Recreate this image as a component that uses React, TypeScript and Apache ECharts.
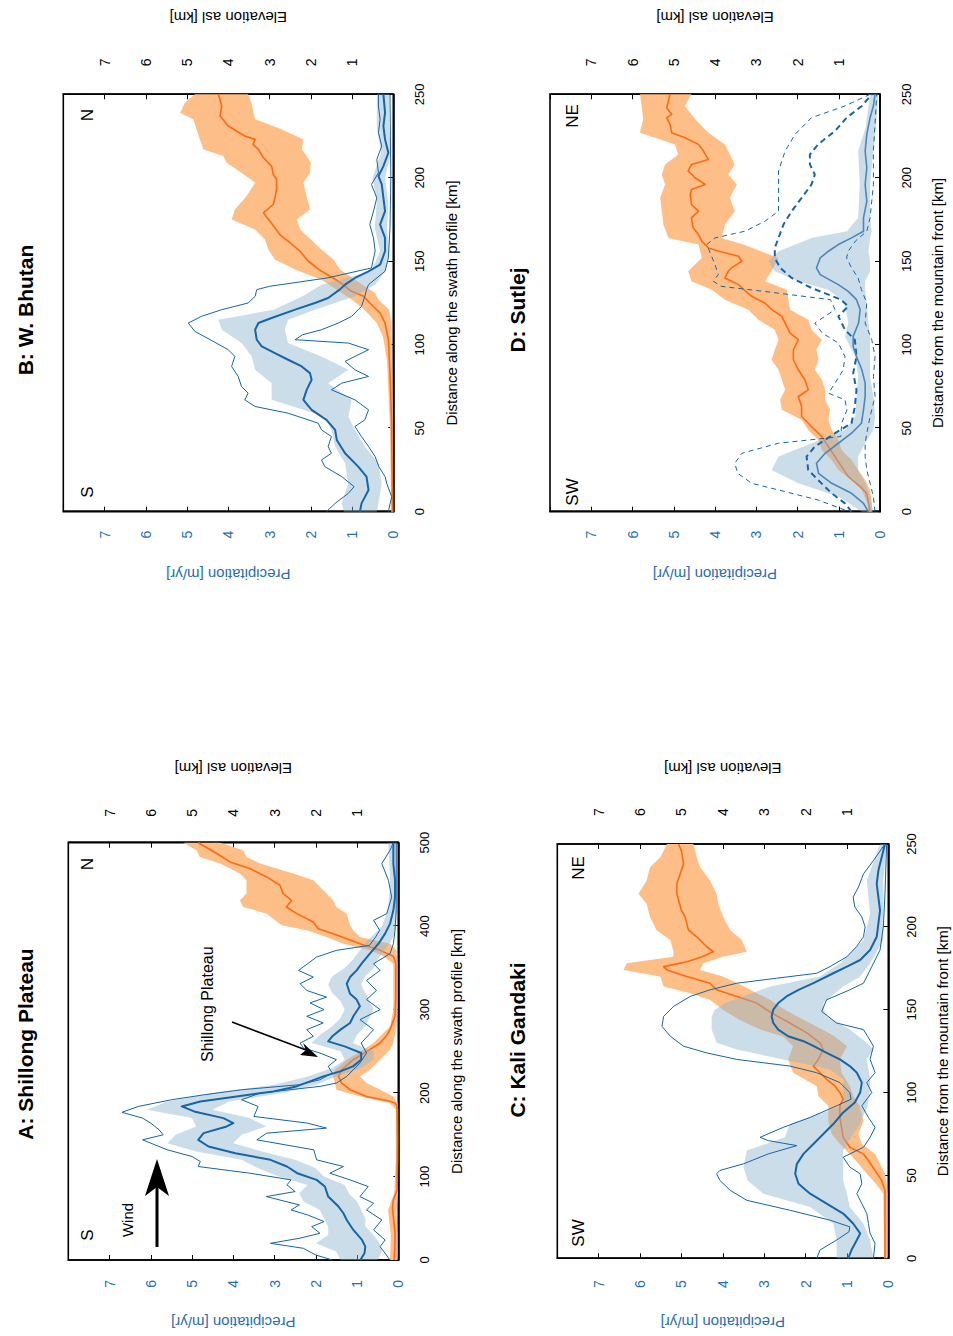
import React, { useEffect, useRef } from 'react';
import * as echarts from 'echarts';

type Pt = [number, number];
type Bd = [number, number, number];

// ---------------- Panel A: Shillong Plateau ----------------
const A_MEAN: Pt[] = [[0, 0.92], [8, 0.82], [16, 0.8], [24, 0.88], [36, 1.09], [48, 1.25], [56, 1.33], [64, 1.45], [76, 1.7], [88, 1.78], [96, 1.98], [104, 2.45], [112, 2.7], [120, 3.1], [128, 3.95], [136, 4.6], [144, 4.85], [152, 4.72], [160, 4.16], [164, 4.0], [170, 4.24], [178, 4.95], [184, 5.25], [190, 4.8], [196, 3.92], [202, 3.03], [208, 2.47], [214, 2.14], [220, 1.82], [226, 1.41], [232, 1.1], [240, 0.9], [248, 0.9], [256, 1.3], [262, 1.7], [268, 1.6], [276, 1.4], [284, 1.17], [292, 1.09], [304, 0.93], [312, 1.01], [319, 1.17], [331, 1.25], [339, 1.17], [347, 1.01], [355, 0.89], [367, 0.69], [379, 0.48], [391, 0.32], [403, 0.2], [419, 0.12], [435, 0.08], [455, 0.08], [475, 0.12], [500, 0.12]];
const A_BAND: Bd[] = [[0, 0.5, 1.4], [10, 0.4, 1.5], [20, 0.45, 2.0], [30, 0.6, 1.7], [40, 0.8, 1.7], [50, 0.8, 1.8], [60, 0.9, 1.9], [70, 1.0, 2.3], [80, 1.2, 2.4], [90, 1.3, 2.2], [100, 1.8, 2.9], [110, 2.0, 3.4], [120, 2.5, 3.8], [130, 3.3, 4.9], [140, 4.0, 5.6], [150, 3.8, 5.4], [160, 3.2, 4.9], [170, 3.6, 5.0], [180, 4.5, 6.1], [190, 4.1, 5.6], [200, 2.8, 4.5], [210, 2.0, 3.0], [220, 1.5, 2.2], [230, 0.9, 1.6], [240, 0.6, 1.3], [250, 0.6, 1.4], [260, 1.1, 2.1], [270, 1.0, 1.9], [280, 0.8, 1.6], [290, 0.7, 1.4], [300, 0.6, 1.3], [310, 0.7, 1.4], [320, 0.8, 1.6], [330, 0.9, 1.7], [340, 0.8, 1.6], [350, 0.6, 1.3], [360, 0.5, 1.1], [370, 0.35, 0.95], [380, 0.2, 0.8], [390, 0.1, 0.6], [400, 0.05, 0.4], [420, 0.03, 0.25], [450, 0.03, 0.2], [480, 0.03, 0.22], [500, 0.03, 0.25]];
const A_MAX: Pt[] = [[0, 1.6], [6, 2.0], [14, 2.3], [20, 3.1], [26, 2.4], [32, 1.9], [40, 2.1], [46, 1.8], [54, 2.2], [60, 2.6], [66, 2.4], [76, 3.2], [82, 2.5], [90, 2.7], [96, 2.6], [104, 3.6], [112, 4.85], [118, 4.8], [124, 5.0], [132, 5.6], [138, 5.9], [144, 6.2], [150, 5.7], [156, 5.8], [164, 6.0], [170, 6.2], [177, 6.7], [184, 6.3], [192, 5.5], [198, 4.7], [204, 3.8], [210, 2.4], [216, 1.9], [224, 1.6], [232, 1.7], [240, 1.5], [248, 1.9], [254, 2.3], [260, 2.38], [268, 2.06], [276, 2.22], [284, 1.82], [292, 2.22], [300, 1.8], [308, 2.14], [315, 1.74], [323, 2.22], [331, 2.38], [339, 2.06], [347, 2.42], [355, 2.2], [363, 1.98], [371, 1.5], [377, 0.7], [387, 0.55], [395, 0.45], [407, 0.6], [415, 0.28], [435, 0.16], [455, 0.24], [475, 0.4], [491, 0.2], [500, 0.12]];
const A_MIN: Pt[] = [[0, 0.2], [16, 0.44], [24, 0.32], [36, 0.6], [48, 0.4], [60, 0.77], [68, 0.6], [76, 0.93], [88, 0.73], [96, 1.17], [104, 1.66], [112, 1.33], [120, 1.98], [132, 2.05], [144, 3.43], [152, 3.19], [158, 1.74], [164, 2.2], [172, 3.5], [184, 3.4], [192, 3.8], [200, 3.35], [208, 1.9], [212, 1.5], [220, 1.25], [228, 1.09], [236, 0.93], [248, 0.77], [260, 0.9], [276, 0.6], [288, 0.93], [300, 0.44], [312, 0.77], [323, 0.53], [335, 0.77], [347, 0.44], [355, 0.6], [367, 0.2], [379, 0.12], [395, 0.08], [420, 0.05], [500, 0.05]];
const A_ELEV: Pt[] = [[0, 0.1], [20, 0.08], [32, 0.08], [52, 0.12], [62, 0.14], [72, 0.12], [84, 0.03], [144, 0.02], [184, 0.03], [188, 0.08], [191, 0.28], [196, 0.77], [204, 1.17], [212, 1.37], [220, 1.45], [228, 1.37], [240, 1.09], [252, 0.69], [260, 0.44], [268, 0.3], [276, 0.2], [292, 0.08], [315, 0.06], [355, 0.06], [364, 0.12], [371, 0.44], [379, 0.93], [385, 1.25], [391, 1.58], [397, 1.94], [405, 2.06], [415, 2.46], [423, 2.71], [431, 2.59], [439, 2.79], [449, 2.87], [459, 3.19], [469, 3.6], [477, 4.08], [487, 4.4], [500, 4.85]];
const A_ELEV_BAND: Bd[] = [[0, 0.02, 0.2], [30, 0.02, 0.18], [60, 0.04, 0.25], [80, 0.01, 0.1], [120, 0.0, 0.06], [180, 0.0, 0.06], [188, 0.02, 0.2], [196, 0.12, 0.93], [204, 0.44, 1.5], [212, 0.77, 1.54], [220, 0.93, 1.58], [228, 0.69, 1.54], [240, 0.44, 1.25], [252, 0.2, 0.85], [260, 0.12, 0.6], [270, 0.08, 0.4], [280, 0.04, 0.2], [300, 0.02, 0.12], [355, 0.02, 0.12], [365, 0.04, 0.4], [371, 0.04, 0.69], [379, 0.2, 1.33], [387, 0.93, 1.74], [395, 1.09, 2.22], [401, 1.17, 2.83], [415, 1.25, 3.19], [423, 1.5, 3.76], [431, 1.58, 3.84], [439, 1.74, 3.68], [455, 2.06, 3.68], [463, 2.55, 3.84], [475, 3.35, 4.32], [483, 3.68, 4.81], [491, 3.76, 4.89], [500, 4.32, 5.21]];

// ---------------- Panel B: W. Bhutan ----------------
const B_MEAN: Pt[] = [[0, 0.81], [5, 0.77], [13, 0.6], [21, 0.65], [27, 0.85], [35, 1.17], [43, 1.37], [49, 1.41], [55, 1.62], [61, 1.98], [67, 2.18], [73, 2.1], [79, 1.98], [83, 2.02], [87, 2.22], [91, 2.55], [95, 2.87], [99, 3.19], [103, 3.31], [109, 3.35], [113, 3.27], [116, 2.95], [121, 2.38], [125, 1.9], [128, 1.58], [133, 1.3], [136, 1.17], [140, 0.93], [144, 0.6], [148, 0.32], [156, 0.2], [164, 0.2], [172, 0.32], [180, 0.2], [188, 0.24], [196, 0.28], [201, 0.36], [207, 0.24], [215, 0.12], [223, 0.2], [231, 0.24], [239, 0.2], [250, 0.24]];
const B_BAND: Bd[] = [[0, 0.4, 1.2], [5, 0.36, 1.25], [17, 0.28, 1.09], [29, 0.36, 1.17], [39, 0.69, 1.41], [49, 0.93, 1.5], [57, 1.09, 1.66], [67, 1.01, 2.95], [77, 1.58, 2.95], [85, 1.09, 3.35], [93, 1.74, 3.43], [101, 2.55, 3.68], [109, 2.63, 4.16], [115, 2.55, 4.24], [121, 1.9, 2.9], [129, 0.93, 2.2], [136, 0.44, 1.74], [144, 0.2, 0.53], [156, 0.1, 0.32], [170, 0.15, 0.45], [185, 0.12, 0.4], [200, 0.2, 0.5], [215, 0.05, 0.3], [230, 0.1, 0.4], [250, 0.1, 0.4]];
const B_MAX: Pt[] = [[0, 1.62], [5, 1.41], [11, 1.09], [15, 0.95], [21, 1.25], [27, 1.66], [31, 1.74], [35, 1.5], [39, 1.58], [45, 1.5], [49, 1.74], [53, 1.82], [59, 2.55], [63, 3.35], [67, 3.6], [71, 3.52], [75, 3.68], [81, 3.76], [87, 3.92], [93, 3.84], [97, 4.0], [103, 4.44], [108, 4.81], [113, 4.97], [117, 4.65], [121, 4.16], [125, 3.52], [129, 3.35], [133, 3.31], [135, 3.0], [140, 1.6], [146, 0.53], [156, 0.44], [164, 0.48], [172, 0.57], [180, 0.48], [188, 0.4], [196, 0.53], [203, 0.36], [211, 0.4], [219, 0.28], [227, 0.36], [235, 0.32], [243, 0.36], [250, 0.36]];
const B_MIN: Pt[] = [[0, 0.12], [9, 0.04], [17, 0.16], [21, 0.2], [27, 0.35], [33, 0.44], [39, 0.6], [45, 0.77], [51, 0.93], [55, 0.69], [61, 0.6], [67, 0.93], [73, 1.5], [77, 1.25], [81, 0.6], [85, 0.93], [90, 1.17], [93, 0.93], [97, 0.6], [101, 1.09], [103, 2.38], [106, 2.2], [109, 1.74], [113, 1.33], [117, 1.01], [123, 0.77], [129, 0.69], [133, 0.65], [136, 0.6], [144, 0.2], [152, 0.12], [170, 0.08], [200, 0.06], [250, 0.08]];
const B_ELEV: Pt[] = [[0, 0.02], [53, 0.04], [83, 0.08], [103, 0.12], [113, 0.2], [119, 0.32], [125, 0.57], [129, 0.72], [132, 1.01], [138, 1.33], [144, 1.74], [150, 2.06], [156, 2.26], [162, 2.55], [166, 2.75], [170, 2.87], [174, 2.99], [179, 3.15], [184, 2.91], [188, 2.87], [193, 2.83], [199, 2.83], [202, 2.91], [207, 2.95], [212, 3.15], [217, 3.27], [220, 3.4], [223, 3.35], [225, 3.6], [231, 4.0], [237, 4.2], [243, 4.16], [250, 4.24]];
const B_ELEV_BAND: Bd[] = [[0, 0.0, 0.05], [50, 0.01, 0.08], [90, 0.03, 0.15], [105, 0.04, 0.25], [113, 0.05, 0.4], [121, 0.1, 0.7], [127, 0.36, 1.0], [131, 0.44, 1.25], [139, 0.93, 1.74], [145, 1.29, 2.38], [151, 1.45, 2.87], [157, 1.74, 3.03], [163, 2.0, 3.11], [169, 2.26, 3.35], [175, 2.34, 3.92], [181, 2.02, 3.84], [189, 2.1, 3.56], [197, 2.18, 3.35], [203, 2.02, 3.68], [209, 2.0, 4.04], [213, 2.1, 4.12], [217, 2.22, 4.6], [223, 2.18, 4.69], [229, 2.71, 4.77], [235, 3.35, 4.85], [239, 3.39, 5.17], [245, 3.44, 5.05], [250, 3.52, 4.81]];

// ---------------- Panel C: Kali Gandaki ----------------
const C_MEAN: Pt[] = [[0, 0.97], [5, 0.89], [11, 0.76], [15, 0.68], [21, 0.85], [27, 1.09], [33, 1.49], [39, 1.89], [45, 2.17], [51, 2.25], [57, 2.21], [63, 2.05], [69, 1.81], [75, 1.57], [81, 1.33], [88, 1.09], [94, 0.81], [100, 0.68], [106, 0.64], [112, 0.76], [116, 0.93], [120, 1.17], [124, 1.49], [128, 1.8], [131, 2.05], [134, 2.42], [138, 2.66], [142, 2.78], [146, 2.82], [150, 2.78], [154, 2.66], [158, 2.46], [162, 2.17], [166, 1.81], [172, 1.33], [176, 1.0], [180, 0.68], [186, 0.44], [194, 0.28], [202, 0.24], [210, 0.2], [218, 0.24], [226, 0.28], [234, 0.24], [242, 0.16], [250, 0.08]];
const C_BAND: Bd[] = [[0, 0.36, 1.25], [11, 0.44, 1.25], [21, 0.6, 1.33], [31, 0.93, 1.89], [39, 1.0, 3.02], [47, 1.09, 3.4], [55, 1.09, 3.5], [65, 1.09, 3.42], [73, 0.9, 2.5], [81, 0.68, 2.38], [92, 0.5, 1.1], [100, 0.45, 1.09], [108, 0.44, 1.09], [114, 0.48, 1.41], [120, 0.52, 2.54], [126, 0.36, 3.66], [130, 0.52, 4.15], [138, 0.93, 4.27], [146, 1.49, 4.27], [150, 1.55, 4.19], [154, 1.57, 3.95], [164, 1.09, 2.86], [170, 0.68, 1.65], [178, 0.44, 1.17], [192, 0.12, 0.6], [208, 0.12, 0.44], [228, 0.12, 0.52], [250, 0.04, 0.2]];
const C_MAX: Pt[] = [[0, 1.73], [5, 1.65], [11, 1.25], [16, 0.95], [19, 0.93], [23, 1.41], [29, 2.38], [35, 3.42], [41, 3.82], [47, 4.07], [51, 4.15], [53, 4.07], [57, 3.5], [63, 2.9], [68, 2.21], [71, 2.9], [73, 3.1], [79, 2.54], [85, 1.89], [92, 1.25], [96, 0.9], [100, 0.93], [106, 1.17], [112, 1.73], [116, 2.38], [120, 3.66], [124, 4.4], [128, 4.95], [134, 5.27], [140, 5.47], [146, 5.43], [152, 5.19], [158, 4.79], [162, 4.31], [166, 3.66], [169, 2.7], [172, 1.73], [176, 1.41], [182, 1.0], [188, 0.77], [194, 0.6], [200, 0.56], [206, 0.64], [212, 0.81], [218, 0.85], [224, 0.72], [232, 0.6], [240, 0.36], [250, 0.08]];
const C_MIN: Pt[] = [[0, 0.36], [9, 0.32], [15, 0.44], [21, 0.48], [27, 0.52], [33, 0.64], [39, 0.76], [45, 0.64], [51, 0.68], [55, 0.93], [61, 1.09], [67, 0.6], [73, 0.44], [79, 0.32], [85, 0.48], [92, 0.64], [100, 0.4], [106, 0.52], [112, 0.32], [120, 0.44], [128, 0.36], [134, 0.5], [138, 0.6], [142, 1.25], [149, 1.61], [156, 1.49], [162, 0.93], [166, 0.6], [176, 0.4], [186, 0.2], [200, 0.12], [220, 0.08], [250, 0.04]];
const C_ELEV: Pt[] = [[0, 0.08], [35, 0.08], [41, 0.08], [47, 0.16], [53, 0.32], [59, 0.48], [63, 0.6], [67, 0.93], [73, 1.09], [79, 1.13], [85, 1.17], [92, 1.17], [96, 1.09], [100, 1.17], [104, 1.29], [108, 1.49], [112, 1.65], [116, 1.81], [120, 1.69], [126, 1.57], [130, 1.65], [136, 1.97], [142, 2.38], [148, 2.82], [154, 3.18], [158, 3.66], [162, 4.15], [164, 4.23], [166, 4.31], [170, 4.87], [174, 5.35], [176, 5.43], [179, 4.87], [182, 4.5], [185, 4.23], [188, 4.39], [194, 4.63], [198, 4.83], [206, 4.91], [210, 5.0], [216, 5.07], [220, 5.11], [226, 5.11], [232, 5.03], [238, 4.95], [246, 5.0], [250, 5.07]];
const C_ELEV_BAND: Bd[] = [[0, 0.02, 0.1], [39, 0.02, 0.12], [45, 0.04, 0.3], [51, 0.08, 0.52], [57, 0.2, 0.72], [63, 0.32, 0.93], [69, 0.64, 1.17], [75, 0.72, 1.37], [83, 0.6, 1.45], [92, 0.69, 1.45], [98, 0.85, 1.69], [104, 0.93, 1.73], [112, 1.13, 2.3], [120, 1.17, 2.42], [128, 1.0, 2.3], [134, 1.3, 2.55], [138, 1.6, 3.1], [144, 2.05, 3.6], [150, 2.5, 4.0], [156, 2.86, 4.31], [160, 3.18, 4.79], [164, 3.48, 5.43], [170, 4.0, 5.51], [174, 4.55, 6.4], [178, 4.47, 6.32], [182, 4.0, 5.2], [185, 3.42, 5.19], [192, 3.54, 5.27], [198, 3.82, 5.6], [206, 3.99, 5.76], [214, 4.11, 5.84], [220, 4.15, 6.04], [228, 4.31, 5.84], [236, 4.55, 5.76], [242, 4.63, 5.51], [250, 4.71, 5.35]];

// ---------------- Panel D: Sutlej ----------------
const D_MEAN: Pt[] = [[0, 0.28], [5, 0.4], [11, 0.69], [17, 1.17], [23, 1.49], [29, 1.54], [35, 1.33], [41, 1.01], [47, 0.69], [53, 0.45], [61, 0.4], [69, 0.36], [77, 0.36], [85, 0.44], [93, 0.57], [99, 0.65], [105, 0.65], [113, 0.52], [121, 0.48], [127, 0.57], [132, 0.77], [136, 1.01], [142, 1.45], [146, 1.54], [152, 1.45], [156, 1.25], [160, 1.01], [164, 0.69], [168, 0.4], [176, 0.4], [186, 0.32], [196, 0.36], [206, 0.32], [216, 0.36], [226, 0.32], [236, 0.24], [243, 0.16], [250, 0.12]];
const D_BAND: Bd[] = [[0, 0.16, 0.44], [9, 0.24, 1.0], [17, 0.36, 1.98], [25, 0.53, 2.63], [33, 0.53, 2.46], [41, 0.36, 1.66], [49, 0.16, 0.85], [57, 0.12, 0.6], [69, 0.16, 0.57], [81, 0.24, 0.53], [93, 0.24, 0.6], [105, 0.24, 0.85], [113, 0.28, 0.77], [125, 0.32, 0.85], [133, 0.36, 1.25], [138, 0.36, 1.98], [144, 0.24, 2.55], [150, 0.24, 2.71], [156, 0.28, 2.46], [164, 0.24, 1.66], [168, 0.2, 0.8], [176, 0.24, 0.53], [196, 0.24, 0.49], [216, 0.16, 0.53], [230, 0.1, 0.35], [250, 0.04, 0.24]];
const D_DASH_MEAN: Pt[] = [[0, 0.69], [5, 0.85], [11, 1.17], [19, 1.5], [25, 1.74], [33, 1.78], [39, 1.58], [47, 1.09], [53, 0.69], [63, 0.61], [73, 0.57], [83, 0.65], [93, 0.57], [103, 0.61], [109, 0.85], [117, 1.01], [123, 0.77], [127, 0.95], [130, 1.25], [134, 1.66], [137, 1.9], [140, 2.14], [146, 2.42], [152, 2.55], [158, 2.55], [164, 2.46], [172, 2.34], [180, 2.14], [188, 1.9], [196, 1.66], [202, 1.58], [208, 1.7], [214, 1.7], [220, 1.5], [228, 1.09], [236, 0.81], [243, 0.44], [250, 0.2]];
const D_DASH_MAX: Pt[] = [[1, 0.85], [7, 1.5], [13, 2.46], [17, 3.11], [23, 3.45], [29, 3.52], [35, 3.35], [41, 2.46], [45, 0.95], [53, 0.93], [61, 0.8], [67, 0.85], [71, 1.25], [77, 1.09], [85, 0.89], [93, 0.85], [101, 1.01], [107, 1.4], [113, 1.58], [121, 1.09], [127, 1.2], [131, 2.5], [135, 3.85], [138, 4.04], [142, 3.92], [148, 4.0], [154, 4.1], [160, 4.2], [164, 4.0], [168, 3.27], [174, 2.79], [180, 2.46], [192, 2.46], [204, 2.46], [216, 2.3], [226, 2.06], [236, 1.66], [243, 0.85], [250, 0.24]];
const D_DASH_MIN: Pt[] = [[0, 0.12], [9, 0.16], [17, 0.24], [25, 0.32], [33, 0.36], [41, 0.36], [47, 0.32], [57, 0.24], [69, 0.12], [81, 0.16], [93, 0.12], [103, 0.2], [113, 0.36], [125, 0.32], [133, 0.45], [140, 0.53], [146, 0.69], [152, 0.81], [156, 0.77], [162, 0.6], [168, 0.32], [176, 0.24], [196, 0.16], [216, 0.16], [232, 0.12], [250, 0.08]];
const D_ELEV: Pt[] = [[0, 0.24], [5, 0.28], [11, 0.32], [15, 0.48], [21, 0.77], [27, 0.93], [33, 1.09], [39, 1.25], [45, 1.41], [51, 1.66], [57, 1.9], [63, 1.9], [69, 1.98], [73, 1.74], [79, 1.82], [85, 1.98], [91, 2.1], [97, 2.1], [103, 1.98], [107, 2.18], [113, 2.3], [117, 2.38], [121, 2.62], [125, 2.79], [129, 3.11], [133, 3.3], [136, 3.43], [140, 3.76], [144, 3.68], [146, 3.6], [150, 3.35], [153, 3.43], [156, 3.9], [158, 4.16], [162, 4.32], [166, 4.4], [170, 4.53], [176, 4.57], [180, 4.4], [184, 4.57], [190, 4.6], [193, 4.57], [196, 4.24], [200, 4.48], [204, 4.65], [208, 4.57], [211, 4.16], [216, 4.28], [220, 4.4], [224, 4.73], [227, 5.05], [232, 5.09], [236, 5.17], [238, 5.05], [242, 5.17], [246, 5.13], [250, 5.09]];
const D_ELEV_BAND: Bd[] = [[0, 0.2, 0.28], [5, 0.2, 0.3], [13, 0.24, 0.44], [19, 0.36, 0.69], [25, 0.53, 1.01], [31, 0.69, 1.17], [37, 0.93, 1.41], [43, 1.01, 1.5], [49, 1.17, 1.74], [55, 1.25, 1.9], [61, 1.21, 2.38], [67, 1.33, 2.42], [73, 1.33, 2.3], [79, 1.41, 2.38], [85, 1.58, 2.46], [91, 1.49, 2.63], [97, 1.54, 2.55], [103, 1.41, 2.46], [109, 1.66, 2.55], [115, 1.74, 2.95], [121, 2.18, 3.19], [127, 2.22, 3.76], [133, 2.26, 4.08], [138, 2.79, 4.57], [144, 2.63, 4.65], [152, 2.46, 4.32], [160, 3.31, 4.4], [164, 3.84, 5.13], [172, 3.76, 5.25], [180, 3.52, 5.29], [188, 3.64, 5.33], [196, 3.47, 5.21], [202, 3.68, 5.29], [208, 3.52, 5.21], [214, 3.64, 4.89], [220, 3.76, 4.97], [227, 4.16, 5.82], [235, 4.48, 5.74], [243, 4.73, 5.78], [250, 4.57, 5.82]];

// ---------------- Axes / labels ----------------
const VALUE_MAX = 8;
const DIST_MAX = [500, 250, 250, 250];
const DIST_STEP = [100, 50, 50, 50];
const TITLES = ['A: Shillong Plateau', 'B: W. Bhutan', 'C: Kali Gandaki', 'D: Sutlej'];
const DIST_NAMES = ['Distance along the swath profile [km]', 'Distance along the swath profile [km]', 'Distance from the mountain front [km]', 'Distance from the mountain front [km]'];
const SIDE_LABELS = [['S', 'N'], ['S', 'N'], ['SW', 'NE'], ['SW', 'NE']];
const PRECIP_NAME = 'Precipitation [m/yr]';
const ELEV_NAME = 'Elevation asl [km]';

// ---------------- Styles ----------------
const FONT = 'Liberation Sans, Arial, Helvetica, sans-serif';
const BLUE = '#1665a6';
const BLUE_LIGHT = '#4a87ba';
const BLUE_TEXT = '#2a6db2';
const BLUE_BAND = 'rgba(142,179,208,0.45)';
const ORANGE = '#ff6a10';
const ORANGE_BAND = '#fdbf87';

const GRIDS = [
  { left: 76, top: 68.3, width: 417.3, height: 330 },
  { left: 824.3, top: 63.3, width: 417.4, height: 330 },
  { left: 77.7, top: 557.3, width: 414.3, height: 331 },
  { left: 824.3, top: 550, width: 417.4, height: 330 },
];
const LAYOUT = [
  { distMargin: 20, distGap: 51, pMargin: 20, pGap: 55, eMargin: 26, eGap: 67, title: [292, 25], side: [[101, 87], [472, 87]] },
  { distMargin: 20, distGap: 51, pMargin: 19, pGap: 55, eMargin: 28, eGap: 69, title: [1026, 25], side: [[844, 87], [1221, 87]] },
  { distMargin: 17, distGap: 47, pMargin: 22, pGap: 57, eMargin: 28, eGap: 68, title: [296, 517], side: [[103, 578], [468, 578]] },
  { distMargin: 20, distGap: 50, pMargin: 19, pGap: 55, eMargin: 28, eGap: 69, title: [1026, 517], side: [[844, 572], [1220, 572]] },
];

function bandSeries(xi: number, yi: number, pts: Bd[], color: string, z: number) {
  return {
    type: 'custom',
    xAxisIndex: xi,
    yAxisIndex: yi,
    z,
    silent: true,
    encode: { x: 0, y: [1, 2] },
    data: pts,
    renderItem: (params: any, api: any) => {
      if (params.dataIndex !== 0) return null;
      const upper = pts.map((p) => api.coord([p[0], p[2]]));
      const lower = pts.map((p) => api.coord([p[0], p[1]])).reverse();
      return { type: 'polygon', shape: { points: upper.concat(lower) }, style: { fill: color } };
    },
  };
}

function lineSeries(xi: number, yi: number, pts: Pt[], color: string, width: number, z: number, dash?: number[]) {
  return {
    type: 'line',
    xAxisIndex: xi,
    yAxisIndex: yi,
    z,
    silent: true,
    symbol: 'none',
    showSymbol: false,
    data: pts,
    lineStyle: { color, width, type: dash ? dash : 'solid', cap: 'butt', join: 'round' },
  };
}

const PANELS = [
  { mean: A_MEAN, band: A_BAND, thin: [A_MAX, A_MIN], elev: A_ELEV, elevBand: A_ELEV_BAND },
  { mean: B_MEAN, band: B_BAND, thin: [B_MAX, B_MIN], elev: B_ELEV, elevBand: B_ELEV_BAND },
  { mean: C_MEAN, band: C_BAND, thin: [C_MAX, C_MIN], elev: C_ELEV, elevBand: C_ELEV_BAND },
  { mean: D_MEAN, band: D_BAND, thin: [] as Pt[][], elev: D_ELEV, elevBand: D_ELEV_BAND },
];

function buildOption() {
  const xAxis: any[] = [];
  const yAxis: any[] = [];
  const series: any[] = [];
  const graphic: any[] = [];

  GRIDS.forEach((_, g) => {
    const L = LAYOUT[g];
    xAxis.push({
      gridIndex: g, type: 'value', min: 0, max: DIST_MAX[g], interval: DIST_STEP[g],
      axisLine: { show: true, onZero: false, lineStyle: { color: '#000', width: 1.6 } },
      axisTick: { show: true, inside: true, length: 5, lineStyle: { color: '#000', width: 1 } },
      axisLabel: { color: '#000', fontSize: 13, fontFamily: FONT, margin: L.distMargin },
      splitLine: { show: false },
      name: DIST_NAMES[g], nameLocation: 'middle', nameGap: L.distGap,
      nameTextStyle: { color: '#000', fontSize: 15, fontFamily: FONT },
    });
    yAxis.push({
      gridIndex: g, type: 'value', min: 0, max: VALUE_MAX, interval: 1, position: 'left',
      axisLine: { show: true, onZero: false, lineStyle: { color: '#000', width: 1.6 } },
      axisTick: { show: true, inside: true, length: 5, lineStyle: { color: '#000', width: 1 } },
      axisLabel: { color: BLUE_TEXT, fontSize: 14, fontFamily: FONT, margin: L.pMargin, formatter: (v: number) => (v >= VALUE_MAX ? '' : String(v)) },
      splitLine: { show: false },
      name: PRECIP_NAME, nameLocation: 'middle', nameRotate: 90, nameGap: L.pGap,
      nameTextStyle: { color: BLUE_TEXT, fontSize: 15, fontFamily: FONT },
    });
    yAxis.push({
      gridIndex: g, type: 'value', min: 0, max: VALUE_MAX, interval: 1, position: 'right',
      axisLine: { show: true, onZero: false, lineStyle: { color: '#000', width: 1.6 } },
      axisTick: { show: true, inside: true, length: 5, lineStyle: { color: '#000', width: 1 } },
      axisLabel: { color: '#000', fontSize: 14, fontFamily: FONT, margin: L.eMargin, formatter: (v: number) => (v <= 0 || v >= VALUE_MAX ? '' : String(v)) },
      splitLine: { show: false },
      name: ELEV_NAME, nameLocation: 'middle', nameRotate: 90, nameGap: L.eGap,
      nameTextStyle: { color: '#000', fontSize: 15, fontFamily: FONT },
    });

    const P = PANELS[g];
    const yp = 2 * g;
    const ye = 2 * g + 1;
    series.push(bandSeries(g, ye, P.elevBand, ORANGE_BAND, 1));
    series.push(lineSeries(g, ye, P.elev, ORANGE, 1.6, 2));
    series.push(bandSeries(g, yp, P.band, BLUE_BAND, 3));
    P.thin.forEach((t) => series.push(lineSeries(g, yp, t, BLUE, 1, 4)));
    if (g === 3) {
      series.push(lineSeries(g, yp, D_DASH_MAX, BLUE, 1, 4, [5, 4]));
      series.push(lineSeries(g, yp, D_DASH_MIN, BLUE, 1, 4, [5, 4]));
      series.push(lineSeries(g, yp, D_DASH_MEAN, BLUE, 2, 5, [6, 4]));
      series.push(lineSeries(g, yp, P.mean, BLUE_LIGHT, 1.6, 6));
    } else {
      series.push(lineSeries(g, yp, P.mean, BLUE, 2, 5));
    }

    graphic.push({
      type: 'text', x: L.title[0], y: L.title[1], z: 10,
      style: { text: TITLES[g], fill: '#000', font: `bold 21px ${FONT}`, align: 'center', verticalAlign: 'middle' },
    });
    SIDE_LABELS[g].forEach((s, i) => {
      graphic.push({
        type: 'text', x: L.side[i][0], y: L.side[i][1], z: 10,
        style: { text: s, fill: '#000', font: `17px ${FONT}`, align: 'center', verticalAlign: 'middle' },
      });
    });
  });

  // Panel A annotations: wind arrow and Shillong Plateau pointer
  graphic.push({ type: 'text', x: 116, y: 127, z: 10, style: { text: 'Wind', fill: '#000', font: `15px ${FONT}`, align: 'center', verticalAlign: 'middle' } });
  graphic.push({ type: 'line', z: 10, shape: { x1: 89, y1: 157, x2: 150, y2: 157 }, style: { stroke: '#000', lineWidth: 3 } });
  graphic.push({ type: 'polygon', z: 10, shape: { points: [[177, 157], [140, 145], [149, 157], [140, 169]] }, style: { fill: '#000' } });
  graphic.push({ type: 'text', x: 274, y: 207, z: 10, style: { text: 'Shillong Plateau', fill: '#000', font: `16px ${FONT}`, align: 'left', verticalAlign: 'middle' } });
  graphic.push({ type: 'line', z: 10, shape: { x1: 314, y1: 232, x2: 286, y2: 306 }, style: { stroke: '#000', lineWidth: 1.5 } });
  graphic.push({ type: 'polygon', z: 10, shape: { points: [[279, 318], [281, 300], [286, 306], [293, 303]] }, style: { fill: '#000' } });

  return {
    animation: false,
    backgroundColor: '#fff',
    grid: GRIDS.map((gr) => ({ ...gr, show: true, borderColor: '#000', borderWidth: 1.6, backgroundColor: 'transparent' })),
    xAxis,
    yAxis,
    series,
    graphic,
  };
}

export default function App() {
  const ref = useRef<HTMLDivElement>(null);
  useEffect(() => {
    if (!ref.current) return;
    const chart = echarts.init(ref.current, null, { renderer: 'svg' });
    chart.setOption(buildOption() as any);
    return () => chart.dispose();
  }, []);
  return (
    <div style={{ position: 'absolute', left: 0, top: 0, width: 953, height: 1336, overflow: 'hidden', background: '#fff' }}>
      <div
        ref={ref}
        style={{
          position: 'absolute', left: 0, top: 0, width: 1336, height: 953,
          transformOrigin: '0 0', transform: 'translate(0px, 1336px) rotate(-90deg)',
        }}
      />
    </div>
  );
}
